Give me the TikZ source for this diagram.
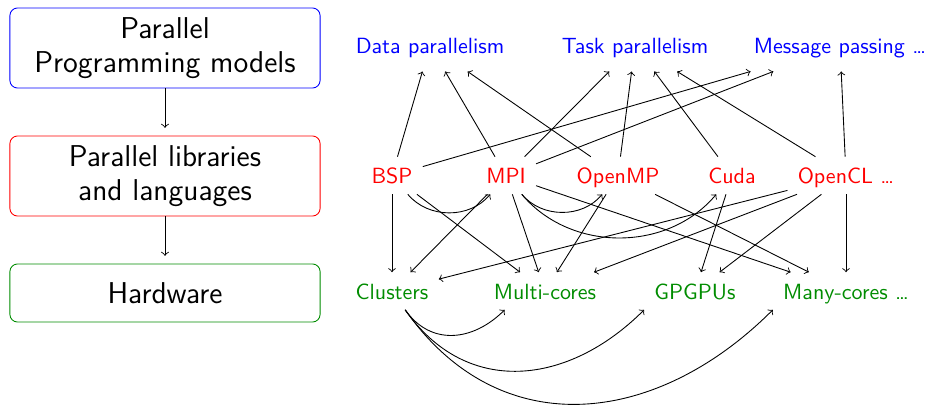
\documentclass[tikz,border=0pt]{standalone}
\usepackage{amsmath}
\usepackage{tikz}
\renewcommand{\familydefault}{\sfdefault}

\begin{document}
\begin{tikzpicture}[x=0.4545pt,y=0.4545pt,
		layer/.style={draw,rounded corners=3.5pt,minimum width=141pt,align=center,font=\fontsize{13.7}{15.6}\selectfont},
		item/.style={inner sep=4.5pt,text height=7.7pt,text depth=0pt},
		model/.style={item,inner ysep=7.75pt,text=blue},
		lang/.style={item,text=red},
		arch/.style={item,text=green!55!black}]
				\useasboundingbox (0,0) rectangle (932,-406);
				% the three layers
				\node[layer,blue,minimum height=36.4pt] (models) at (165,-48) {\textcolor{black}{Parallel}\\\textcolor{black}{Programming models}};
				\node[layer,red,minimum height=36.4pt] (libs) at (165,-176) {\textcolor{black}{Parallel libraries}\\\textcolor{black}{and languages}};
				\node[layer,green!55!black,minimum height=26.4pt] (hw) at (165,-293) {\textcolor{black}{Hardware}};
				\draw[->,shorten >=3.5pt] (models) -- (libs);
				\draw[->,shorten >=3.5pt] (libs) -- (hw);
				% programming models
				\node[model] (data) at (430,-45.5) {Data parallelism};
				\node[model] (task) at (635,-45.5) {Task parallelism};
				\node[model] (msg) at (840,-45.5) {Message passing \ldots};
				% libraries and languages
				\node[lang] (bsp) at (392,-175.5) {BSP};
				\node[lang] (mpi) at (506,-175.5) {MPI};
				\node[lang] (omp) at (618,-175.5) {OpenMP};
				\node[lang] (cuda) at (732,-175.5) {Cuda};
				\node[lang] (ocl) at (846,-175.5) {OpenCL \ldots};
				% hardware
				\node[arch] (clus) at (392,-291) {Clusters};
				\node[arch] (mcore) at (545,-291) {Multi-cores};
				\node[arch] (gpgpu) at (695,-291) {GPGPUs};
				\node[arch] (many) at (846,-291) {Many-cores \ldots};
				% libraries up to models
				\draw[->] (bsp) -- (data);
				\draw[->] (bsp) -- (msg);
				\draw[->] (mpi) -- (data);
				\draw[->] (mpi) -- (task);
				\draw[->] (mpi) -- (msg);
				\draw[->] (omp) -- (data);
				\draw[->] (omp) -- (task);
				\draw[->] (cuda) -- (task);
				\draw[->] (ocl) -- (task);
				\draw[->] (ocl) -- (msg);
				% libraries down to hardware
				\draw[->] (bsp) -- (clus);
				\draw[->] (bsp) -- (mcore);
				\draw[->] (mpi) -- (clus);
				\draw[->] (mpi) -- (mcore);
				\draw[->] (mpi) -- (many);
				\draw[->] (omp) -- (mcore);
				\draw[->] (omp) -- (many);
				\draw[->] (cuda) -- (gpgpu);
				\draw[->] (ocl) -- (clus);
				\draw[->] (ocl) -- (mcore);
				\draw[->] (ocl) -- (gpgpu);
				\draw[->] (ocl) -- (many);
				% libraries built on others
				\draw[->] (bsp) to[bend right=50] (mpi);
				\draw[->] (mpi) to[bend right=50] (omp);
				\draw[->] (mpi) to[bend right=50] (cuda);
				% clusters of the other machines
				\draw[->] (clus) to[out=-55,in=-135,looseness=1.15] (mcore.-155);
				\draw[->] (clus) to[out=-55,in=-135,looseness=1.15] (gpgpu.south west);
				\draw[->] (clus) to[out=-55,in=-135,looseness=1.15] (many.south west);
			\end{tikzpicture}
\end{document}
